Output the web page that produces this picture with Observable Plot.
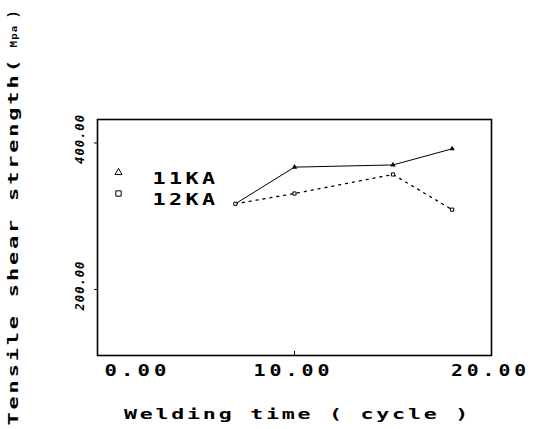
<!DOCTYPE html>
<html><head><meta charset="utf-8">
<script src="https://cdn.jsdelivr.net/npm/d3@7"></script>
<script src="https://cdn.jsdelivr.net/npm/@observablehq/plot@0.6"></script>
<style>
body{margin:0;background:#fff;}
#chart svg{display:block;}
</style>
</head><body><div id="chart"></div>
<script>
const weldingTime = [7, 10, 15, 18];
const strength11KA = [317, 367, 370, 392];
const strength12KA = [317, 331, 357, 309];
const seriesNames = ["11KA", "12KA"];
const xTicks = [0, 10, 20];
const yTicks = [200, 400];
const xLabel = "Welding time ( cycle )";
const yLabelMain = "Tensile shear strength(";
const yLabelUnit = "Mpa";
const yLabelClose = ")";

const data11 = weldingTime.map((t, i) => ({t, s: strength11KA[i]}));
const data12 = weldingTime.map((t, i) => ({t, s: strength12KA[i]}));
const FONT = "DejaVu Sans Mono, Liberation Mono, monospace";

const chart = Plot.plot({
  width: 533,
  height: 429,
  marginLeft: 97,
  marginRight: 42,
  marginTop: 119,
  marginBottom: 74,
  style: {fontFamily: FONT, fontWeight: "bold", background: "#fff", color: "#000"},
  x: {domain: [0, 20], axis: null, label: null},
  y: {domain: [110, 432], axis: null, label: null},
  marks: [
    Plot.frame({stroke: "#000", strokeWidth: 1.6}),
    // x ticks (inward) and labels
    Plot.axisX({ticks: [xTicks[1]], tickSize: -4, tickFormat: () => "", stroke: "#000", label: null}),
    Plot.axisX({ticks: [xTicks[0]], tickSize: 0, tickPadding: 10, tickFormat: d => d.toFixed(2), fontSize: 15, dx: 40, label: null}),
    Plot.axisX({ticks: xTicks.slice(1), tickSize: 0, tickPadding: 10, tickFormat: d => d.toFixed(2), fontSize: 15, dx: -1, label: null}),
    // y ticks and rotated labels
    Plot.axisY({ticks: yTicks, tickSize: 3, tickFormat: () => "", stroke: "#000", label: null}),
    Plot.text(yTicks, {y: d => d, text: d => d.toFixed(2), frameAnchor: "left", textAnchor: "middle", rotate: -90, dx: -17, dy: -4, fontSize: 12, fontStyle: "italic"}),
    // series
    Plot.line(data11, {x: "t", y: "s", stroke: "#000", strokeWidth: 1}),
    Plot.line(data12, {x: "t", y: "s", stroke: "#000", strokeWidth: 1.3, strokeDasharray: "2,5"}),
    Plot.dot(data11.slice(1), {x: "t", y: "s", symbol: "triangle", r: 2, fill: "#000", stroke: "none"}),
    Plot.dot(data12, {x: "t", y: "s", symbol: "square", r: 1.8, fill: "#fff", stroke: "#000", strokeWidth: 1}),
    // legend
    Plot.dot([seriesNames[0]], {frameAnchor: "top-left", dx: 21, dy: 53, symbol: "triangle", r: 2.6, fill: "none", stroke: "#000", strokeWidth: 1}),
    Plot.dot([seriesNames[1]], {frameAnchor: "top-left", dx: 21, dy: 74, symbol: "square", r: 3, fill: "none", stroke: "#000", strokeWidth: 1}),
    Plot.text([seriesNames[0]], {text: d => d, frameAnchor: "top-left", dx: 55, dy: 53, textAnchor: "start", fontSize: 16}),
    Plot.text([seriesNames[1]], {text: d => d, frameAnchor: "top-left", dx: 55, dy: 74, textAnchor: "start", fontSize: 16}),
    // axis titles
    Plot.text([xLabel], {text: d => d, frameAnchor: "bottom", textAnchor: "middle", dy: 63, fontSize: 14, dx: 3}),
    Plot.text([yLabelMain], {text: d => d, frameAnchor: "bottom-left", dx: -80, dy: 70, rotate: -90, textAnchor: "start", fontSize: 14}),
    Plot.text([yLabelUnit], {text: d => d, frameAnchor: "bottom-left", dx: -81, dy: -308, rotate: -90, textAnchor: "start", fontSize: 9}),
    Plot.text([yLabelClose], {text: d => d, frameAnchor: "bottom-left", dx: -80, dy: -337, rotate: -90, textAnchor: "start", fontSize: 14})
  ]
});

// wide printer-like lettering: [letter-spacing, total length]
const wide = new Map([
  ["0.00", [3, 66]], ["10.00", [3, 80]], ["20.00", [3, 79]],
  [seriesNames[0], [2.5, 66]], [seriesNames[1], [2.5, 66]],
  [xLabel, [1.8, 347]], [yLabelMain, [1.8, 369]],
  ["200.00", [1, 50]], ["400.00", [1, 50]], [yLabelUnit, [1, 23]]
]);
d3.select(chart).selectAll("text").each(function() {
  const w = wide.get(this.textContent.trim());
  if (w) {
    this.setAttribute("letter-spacing", w[0]);
    this.setAttribute("textLength", w[1]);
    this.setAttribute("lengthAdjust", "spacingAndGlyphs");
  }
});
document.getElementById("chart").appendChild(chart);
</script>
</body></html>
